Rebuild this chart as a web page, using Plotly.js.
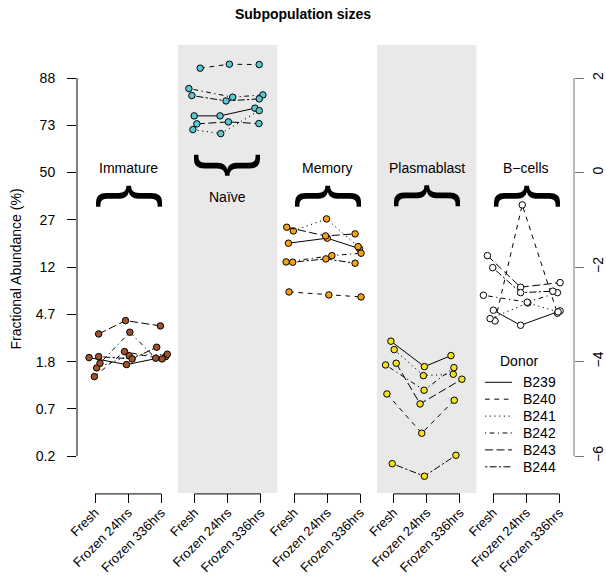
<!DOCTYPE html>
<html><head><meta charset="utf-8">
<script src="https://cdn.plot.ly/plotly-3.0.1.min.js"></script>
<style>html,body{margin:0;padding:0;background:#fff}</style>
</head><body><div id="chart" style="width:606px;height:581px"></div>
<script>
const conditions = ['Fresh', 'Frozen 24hrs', 'Frozen 336hrs'];
const subpops = ['Immature', 'Naïve', 'Memory', 'Plasmablast', 'B\u2212cells'];
const donors = ['B239', 'B240', 'B241', 'B242', 'B243', 'B244'];
const leftTickVals = [-6, -5, -4, -3, -2, -1, 0, 1, 2];
const leftTickText = ['0.2', '0.7', '1.8', '4.7', '12', '27', '50', '73', '88'];
const rightTickVals = [-6, -4, -2, 0, 2];

// logit(fractional abundance) per donor (rows) x condition (cols)
const immature = [[-3.915, -4.063, -3.894], [-4.317, -3.788, -3.943], [-4.133, -3.873, -3.843],
                  [-4.034, -3.378, -3.928], [-3.414, -3.132, -3.244], [-3.894, -3.943, -3.695]];
const naive = [[1.200, 1.200, 1.363], [2.210, 2.294, 2.286], [0.910, 0.825, 1.312],
               [1.778, 1.596, 1.644], [1.031, 1.073, 1.037], [1.630, 1.517, 1.560]];
const memory = [[-1.494, -1.388, -1.608], [-2.525, -2.588, -2.631], [-1.234, -0.980, -1.566],
                [-1.890, -1.757, -1.706], [-1.156, -1.340, -1.297], [-1.896, -1.826, -1.917]];
const plasmablast = [[-3.568, -4.106, -3.873], [-4.684, -5.515, -4.817], [-3.746, -4.296, -4.267],
                     [-4.070, -4.605, -4.127], [-4.034, -4.895, -4.372], [-6.159, -6.425, -5.981]];
const bcells = [[-2.912, -3.230, -2.927], [-3.139, -0.684, -2.976], [-3.090, -2.758, -2.948],
                [-2.595, -2.743, -2.540], [-1.757, -2.425, -2.328], [-2.011, -2.540, -2.510]];

// horizontal jitter
const immatureJitter = [[-0.18, -0.05, 0.13], [-0.02, -0.11, 0.02], [0.05, 0.03, 0.18],
                        [0.15, 0.05, -0.17], [0.11, -0.08, -0.03], [0.11, 0.12, -0.14]];
const naiveJitter = [[-0.01, -0.23, -0.18], [0.17, 0.05, -0.05], [-0.05, -0.21, -0.05],
                     [-0.17, 0.15, 0.06], [0.07, 0.02, -0.06], [-0.08, -0.05, -0.05]];
const memoryJitter = [[-0.17, 0.00, -0.03], [-0.15, 0.05, 0.02], [-0.02, -0.02, -0.07],
                      [-0.24, 0.14, 0.02], [-0.22, -0.05, -0.16], [-0.04, -0.04, -0.16]];
const plasmablastJitter = [[-0.08, -0.07, -0.27], [-0.20, -0.15, -0.17], [0.02, -0.10, -0.20],
                           [-0.24, -0.08, -0.18], [0.08, -0.20, 0.06], [-0.04, -0.07, -0.12]];
const bcellsJitter = [[0.01, -0.17, 0.02], [0.06, -0.12, -0.06], [-0.09, 0.05, -0.04],
                      [-0.29, 0.03, -0.06], [-0.17, -0.17, 0.02], [-0.01, -0.17, -0.20]];

const panelValues = [immature, naive, memory, plasmablast, bcells];
const panelJitter = [immatureJitter, naiveJitter, memoryJitter, plasmablastJitter, bcellsJitter];
const panelColors = ['#A0522D', '#5CC6D2', '#F7A11A', '#F5E21A', '#FFFFFF'];
const dashes = ['solid', '4.7px,4.7px', '1.2px,3.5px', '1.2px,3.5px,4.7px,3.5px', '8px,3.5px', '2.3px,2.3px,7px,2.3px'];

const FONT = 'Liberation Sans, Arial, Helvetica, sans-serif';
const W = 606, H = 581, L = 77, R = 574, T = 45, B = 493;
const px = x => (x - L) / (R - L);
const py = y => (B - y) / (B - T);

const traces = [];
panelValues.forEach((vals, p) => {
  vals.forEach((row, d) => {
    traces.push({
      type: 'scatter', mode: 'lines+markers',
      x: row.map((v, c) => p * 3 + c + 1 + panelJitter[p][d][c]),
      y: row,
      line: {color: '#000', width: 1, dash: dashes[d]},
      marker: {size: 6.5, color: panelColors[p], line: {color: '#000', width: 1}},
      name: donors[d], showlegend: false, hoverinfo: 'skip'
    });
  });
});
traces.push({type: 'scatter', x: [null], y: [null], yaxis: 'y2', showlegend: false, hoverinfo: 'skip'});

const tickVals = [], tickText = [];
subpops.forEach((s, p) => conditions.forEach((c, i) => { tickVals.push(p * 3 + i + 1); tickText.push(c); }));

const shapes = [];
[1, 3].forEach(p => shapes.push({type: 'rect', xref: 'x', yref: 'paper', x0: p * 3 + 0.5, x1: p * 3 + 3.5, y0: 0, y1: 1,
  fillcolor: '#E9E9E9', line: {width: 0}, layer: 'below'}));
subpops.forEach((s, p) => shapes.push({type: 'line', xref: 'x', yref: 'paper', x0: p * 3 + 1, x1: p * 3 + 3, y0: -0.002, y1: -0.002,
  line: {color: '#000', width: 1}}));
shapes.push({type: 'line', xref: 'paper', yref: 'y', x0: 0, x1: 0, y0: -6, y1: 2, line: {color: '#000', width: 1}});
shapes.push({type: 'line', xref: 'paper', yref: 'y', x0: 1, x1: 1, y0: -6, y1: 2, line: {color: '#777', width: 1}});

const annotations = [];
subpops.forEach((s, p) => {
  const xm = p * 3 + 2;
  const isNaive = p === 1;
  annotations.push({x: xm, y: isNaive ? -0.51 : 0.10, xref: 'x', yref: 'y', text: s, showarrow: false,
    xanchor: 'center', yanchor: 'middle', font: {family: FONT, size: 14, color: '#000'}});
  annotations.push({x: xm, y: isNaive ? 0.156 : -0.49, xref: 'x', yref: 'y', text: '{', showarrow: false,
    xanchor: 'center', yanchor: 'middle', xshift: isNaive ? -6 : 7,
    textangle: isNaive ? -90 : 90, font: {family: FONT, size: 70, color: '#000'}});
});
// legend
annotations.push({x: px(518.5), y: py(360.7), xref: 'paper', yref: 'paper', text: 'Donor', showarrow: false,
  xanchor: 'center', yanchor: 'middle', font: {family: FONT, size: 14, color: '#000'}});
donors.forEach((d, i) => {
  const yy = 382.3 + 16.9 * i;
  annotations.push({x: px(521), y: py(yy), xref: 'paper', yref: 'paper', text: d, showarrow: false,
    xanchor: 'left', yanchor: 'middle', font: {family: FONT, size: 14, color: '#000'}});
  shapes.push({type: 'line', xref: 'paper', yref: 'paper', x0: px(485), x1: px(512), y0: py(yy), y1: py(yy),
    line: {color: '#000', width: 1, dash: dashes[i]}});
});

const layout = {
  width: W, height: H,
  margin: {l: L, r: W - R, t: T, b: H - B, pad: 0},
  paper_bgcolor: '#fff', plot_bgcolor: 'rgba(0,0,0,0)',
  font: {family: FONT, size: 14, color: '#000'},
  showlegend: false,
  title: {text: 'Subpopulation sizes', font: {family: FONT, size: 14, weight: 700, color: '#000'},
          x: 0.5, xref: 'container', xanchor: 'center', y: 1 - 14 / H, yref: 'container', yanchor: 'middle'},
  xaxis: {range: [0.457, 15.44], tickvals: tickVals, ticktext: tickText, tickangle: -45,
          ticks: 'outside', ticklen: 9, tickcolor: '#000', tickwidth: 1, showline: false, showgrid: false, zeroline: false,
          ticklabelstandoff: -3, automargin: false,
          tickfont: {family: FONT, size: 13, color: '#000'}, fixedrange: true},
  yaxis: {range: [-6.78, 2.70], tickvals: leftTickVals, ticktext: leftTickText, ticks: 'outside', ticklen: 9,
          tickcolor: '#000', tickwidth: 1, showline: false, showgrid: false, zeroline: false, ticklabelstandoff: 9,
          automargin: false, tickfont: {family: FONT, size: 14, color: '#000'},
          title: {text: 'Fractional Abundance (%)', font: {family: FONT, size: 14, color: '#000'}, standoff: 10}},
  yaxis2: {range: [-6.78, 2.70], overlaying: 'y', side: 'right', tickvals: rightTickVals, ticks: 'outside', ticklen: 9,
           tickcolor: '#777', tickwidth: 1, showline: false, showgrid: false, zeroline: false, tickangle: -90,
           automargin: false, ticklabelstandoff: 2, tickfont: {family: FONT, size: 14, color: '#000'}},
  shapes: shapes,
  annotations: annotations
};

Plotly.newPlot('chart', traces, layout, {displayModeBar: false, staticPlot: true});
</script>
</body></html>
